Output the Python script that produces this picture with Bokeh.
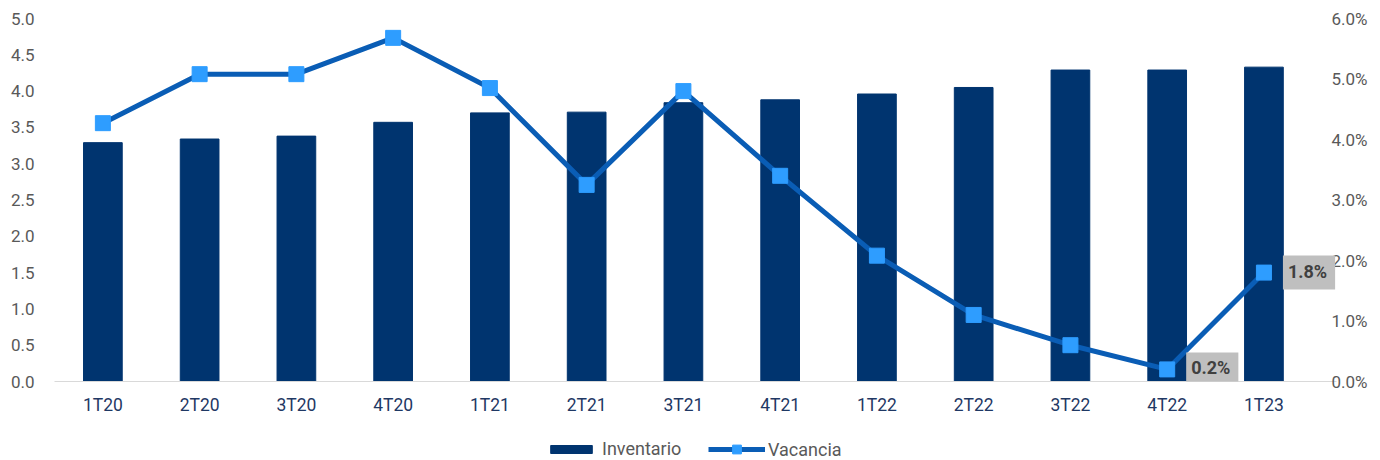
from bokeh.plotting import figure
from bokeh.layouts import column
from bokeh.models import (Range1d, LinearAxis, FixedTicker, PrintfTickFormatter,
                          Label, Legend, LegendItem, ColumnDataSource)
from bokeh.embed import file_html
from bokeh.resources import INLINE

categories = ["1T20", "2T20", "3T20", "4T20", "1T21", "2T21", "3T21", "4T21",
              "1T22", "2T22", "3T22", "4T22", "1T23"]
inventario = [3.29, 3.34, 3.38, 3.57, 3.70, 3.71, 3.84, 3.88, 3.96, 4.05, 4.29, 4.29, 4.33]
vacancia = [4.27, 5.08, 5.08, 5.68, 4.85, 3.25, 4.80, 3.40, 2.08, 1.10, 0.60, 0.20, 1.80]
labeled_categories = ["4T22", "1T23"]
left_ticks = [0, 0.5, 1, 1.5, 2, 2.5, 3, 3.5, 4, 4.5, 5]
right_ticks = [0, 1, 2, 3, 4, 5, 6]

FONT = "Roboto"
TICK_COLOR = "#595959"
BAR_COLOR = "#00346f"
LINE_COLOR = "#0a5db5"
MARK_COLOR = "#2e9dff"

# category slots: slot i is centred on i + 0.5
xpos = [i + 0.5 for i in range(len(categories))]
src = ColumnDataSource(dict(x=xpos, cat=categories, inv=inventario, vac=vacancia))

p = figure(width=1380, height=420, x_range=Range1d(0, len(categories) + 0.25),
           y_range=Range1d(0, 5), output_backend="svg", toolbar_location=None,
           min_border_left=54, min_border_right=44, min_border_top=18, min_border_bottom=39)
p.extra_y_ranges = {"right": Range1d(0, 6)}
p.outline_line_color = None
p.xgrid.grid_line_color = None
p.ygrid.grid_line_color = None

p.vbar(x="x", top="inv", width=0.4, color=BAR_COLOR, source=src)
p.line(x="x", y="vac", y_range_name="right", line_color=LINE_COLOR,
       line_width=5, line_join="round", source=src)
p.scatter(x="x", y="vac", y_range_name="right", marker="square",
          size=15, fill_color=MARK_COLOR, line_color=MARK_COLOR, source=src)

for x, c, v in zip(xpos, categories, vacancia):
    if c in labeled_categories:
        p.add_layout(Label(x=x, y=v, y_range_name="right", text="%.1f%%" % v,
                           x_offset=19, y_offset=0, text_baseline="middle", text_align="left",
                           text_font=FONT, text_font_size="18px", text_font_style="bold",
                           text_color="#404040", background_fill_color="#bfbfbf",
                           padding=(5, 8, 5, 8)))

# axes
xa = p.xaxis[0]
xa.ticker = FixedTicker(ticks=xpos)
xa.major_label_overrides = {x: c for x, c in zip(xpos, categories)}
xa.axis_line_color = "#d9d9d9"
xa.major_tick_line_color = None
xa.minor_tick_line_color = None
xa.major_label_text_font = FONT
xa.major_label_text_font_size = "17.5px"
xa.major_label_text_color = "#1f3864"
xa.major_label_standoff = 7

ya = p.yaxis[0]
ya.ticker = FixedTicker(ticks=left_ticks)
ya.formatter = PrintfTickFormatter(format="%.1f")
ya.axis_line_color = None
ya.major_tick_line_color = None
ya.minor_tick_line_color = None
ya.major_label_text_font = FONT
ya.major_label_text_font_size = "17px"
ya.major_label_text_color = TICK_COLOR
ya.major_label_standoff = 14

ra = LinearAxis(y_range_name="right", ticker=FixedTicker(ticks=right_ticks),
                formatter=PrintfTickFormatter(format="%.1f%%"))
ra.axis_line_color = None
ra.major_tick_line_color = None
ra.minor_tick_line_color = None
ra.major_label_text_font = FONT
ra.major_label_text_font_size = "17px"
ra.major_label_text_color = TICK_COLOR
ra.major_label_standoff = -11
p.add_layout(ra, "right")

# legend strip: same series drawn outside its visible ranges, only the legend shows
lg = figure(width=1380, height=40, x_range=Range1d(100, 101), y_range=Range1d(100, 101),
            x_axis_type=None, y_axis_type=None, output_backend="svg", toolbar_location=None,
            min_border_left=0, min_border_right=0, min_border_top=0, min_border_bottom=0)
lg.outline_line_color = None
lg.xgrid.grid_line_color = None
lg.ygrid.grid_line_color = None
lb = lg.vbar(x="x", top="inv", width=0.4, color=BAR_COLOR, source=src)
ll = lg.line(x="x", y="vac", line_color=LINE_COLOR, line_width=5, source=src)
ls = lg.scatter(x="x", y="vac", marker="square", fill_color=MARK_COLOR,
                line_color=MARK_COLOR, source=src)

common = dict(orientation="horizontal", label_text_font=FONT, label_text_font_size="18px",
              label_text_color=TICK_COLOR, border_line_color=None,
              background_fill_alpha=0, padding=0, margin=0)
leg1 = Legend(items=[LegendItem(label="Inventario", renderers=[lb])],
              location=(491, 1), glyph_width=52, glyph_height=10, label_standoff=5, **common)
leg2 = Legend(items=[LegendItem(label="Vacancia", renderers=[ll, ls])],
              location=(654, 0), glyph_width=57, glyph_height=22, label_standoff=3, **common)
lg.add_layout(leg1, "center")
lg.add_layout(leg2, "center")

layout = column(p, lg, spacing=0)
open("out.html", "w").write(file_html(layout, INLINE))
